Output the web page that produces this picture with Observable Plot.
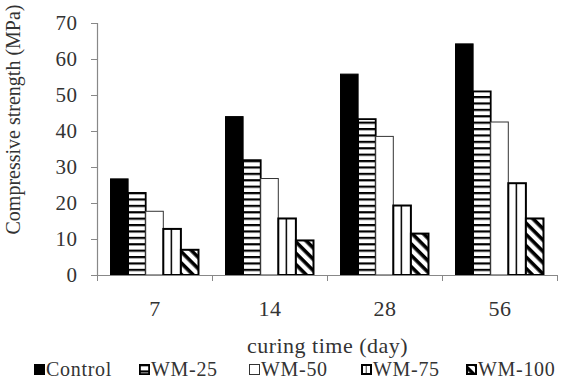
<!DOCTYPE html>
<html><head><meta charset="utf-8">
<script src="https://cdn.jsdelivr.net/npm/d3@7"></script>
<script src="https://cdn.jsdelivr.net/npm/@observablehq/plot@0.6"></script>
<style>
body{margin:0;background:#fff;width:565px;height:379px;overflow:hidden;font-family:"Liberation Serif","Times New Roman",serif;}
#chart{height:358px;line-height:0;}
#chart svg text[transform*="rotate"]{letter-spacing:0;}
#legend{position:relative;height:21px;width:565px;}
.item{position:absolute;top:1px;display:flex;align-items:center;height:20px;font-size:20px;line-height:20px;letter-spacing:0.7px;color:#333;white-space:nowrap;}
.item svg{margin-right:1px;}
</style></head><body>
<svg width="0" height="0" style="position:absolute">
  <defs>
    <pattern id="pH" patternUnits="userSpaceOnUse" width="10" height="6.4">
      <rect width="10" height="6.4" fill="#fff"/><rect y="0" width="10" height="2.2" fill="#000"/>
    </pattern>
    <pattern id="pV" patternUnits="objectBoundingBox" patternContentUnits="objectBoundingBox" width="1" height="1">
      <rect width="1" height="1" fill="#fff"/><rect x="0.42" width="0.085" height="1" fill="#000"/>
    </pattern>
    <pattern id="pD" patternUnits="userSpaceOnUse" width="8" height="8" patternTransform="rotate(45)">
      <rect width="8" height="8" fill="#fff"/><rect width="8" height="3.6" fill="#000"/>
    </pattern>
  </defs>
</svg>
<div id="chart"></div>
<div id="legend"></div>
<script>
const days = ["7", "14", "28", "56"];
const series = ["Control", "WM-25", "WM-50", "WM-75", "WM-100"];
const control = [26.7, 44.0, 55.8, 64.2];
const wm25 = [22.8, 31.9, 43.3, 51.0];
const wm50 = [17.7, 26.8, 38.5, 42.5];
const wm75 = [12.8, 15.7, 19.3, 25.5];
const wm100 = [7.0, 9.6, 11.5, 15.7];
const yTicks = [0, 10, 20, 30, 40, 50, 60, 70];
const yLabel = "Compressive strength (MPa)";
const xLabel = "curing time (day)";

const valuesBySeries = [control, wm25, wm50, wm75, wm100];
const rows = [];
days.forEach((d, g) => valuesBySeries.forEach((arr, s) =>
  rows.push({day: d, g, s, series: series[s], value: arr[g]})));

const fills = {"Control": "#000", "WM-25": "url(#pH)", "WM-50": "#fff", "WM-75": "url(#pV)", "WM-100": "url(#pD)"};
const strokes = {"Control": "#000", "WM-25": "#000", "WM-50": "#333", "WM-75": "#000", "WM-100": "#000"};
const strokeW = {"Control": 1, "WM-25": 1.8, "WM-50": 1, "WM-75": 2, "WM-100": 2};

const BW = 0.153, PAD = (1 - 5 * BW) / 2;

const chart = Plot.plot({
  width: 565, height: 358,
  marginLeft: 97, marginRight: 8, marginTop: 23, marginBottom: 83,
  style: {fontFamily: "'Liberation Serif', 'Times New Roman', serif", fontSize: "21px", color: "#333", background: "#fff", overflow: "visible", letterSpacing: "0.5px"},
  x: {domain: [0, days.length]},
  y: {domain: [0, 70]},
  marks: [
    ...series.map(name => Plot.rect(rows.filter(r => r.series === name), {
      x1: r => r.g + PAD + r.s * BW,
      x2: r => r.g + PAD + (r.s + 1) * BW,
      y1: 0, y2: "value",
      fill: fills[name], stroke: strokes[name], strokeWidth: strokeW[name]
    })),
    Plot.ruleY([0], {stroke: "#888", strokeWidth: 1.2}),
    Plot.ruleX([0], {y1: 0, y2: 70, stroke: "#888", strokeWidth: 1.2}),
    Plot.axisY({ticks: yTicks, tickSize: 6, tickPadding: 14, stroke: "#888", label: null, tickFormat: d => String(d), fill: "#333"}),
    Plot.axisX({ticks: d3.range(days.length + 1), tickSize: 6, tickFormat: () => "", label: null, stroke: "#888"}),
    Plot.axisX({ticks: days.map((d, i) => i + 0.5), tickSize: 0, tickPadding: 25,
      tickFormat: t => days[Math.floor(t)], fill: "#333",
      label: xLabel, labelAnchor: "center", labelOffset: 77, labelArrow: "none", fontSize: 22}),
    Plot.text([yLabel], {frameAnchor: "left", textAnchor: "middle", rotate: -90, dx: -84, dy: -30, fontSize: 20, fill: "#333"})
  ]
});
document.getElementById("chart").appendChild(chart);

// legend
const legendLefts = [34, 139, 249, 361, 466];
const legend = document.getElementById("legend");
series.forEach((name, i) => {
  const div = document.createElement("div");
  div.className = "item";
  div.style.left = legendLefts[i] + "px";
  const sw = strokeW[name];
  div.innerHTML = `<svg width="11" height="11" viewBox="0 0 11 11"><rect x="${sw/2}" y="${sw/2}" width="${11 - sw}" height="${11 - sw}" fill="${fills[name]}" stroke="${strokes[name]}" stroke-width="${sw}"/></svg><span>${name}</span>`;
  legend.appendChild(div);
});
</script>
</body></html>
